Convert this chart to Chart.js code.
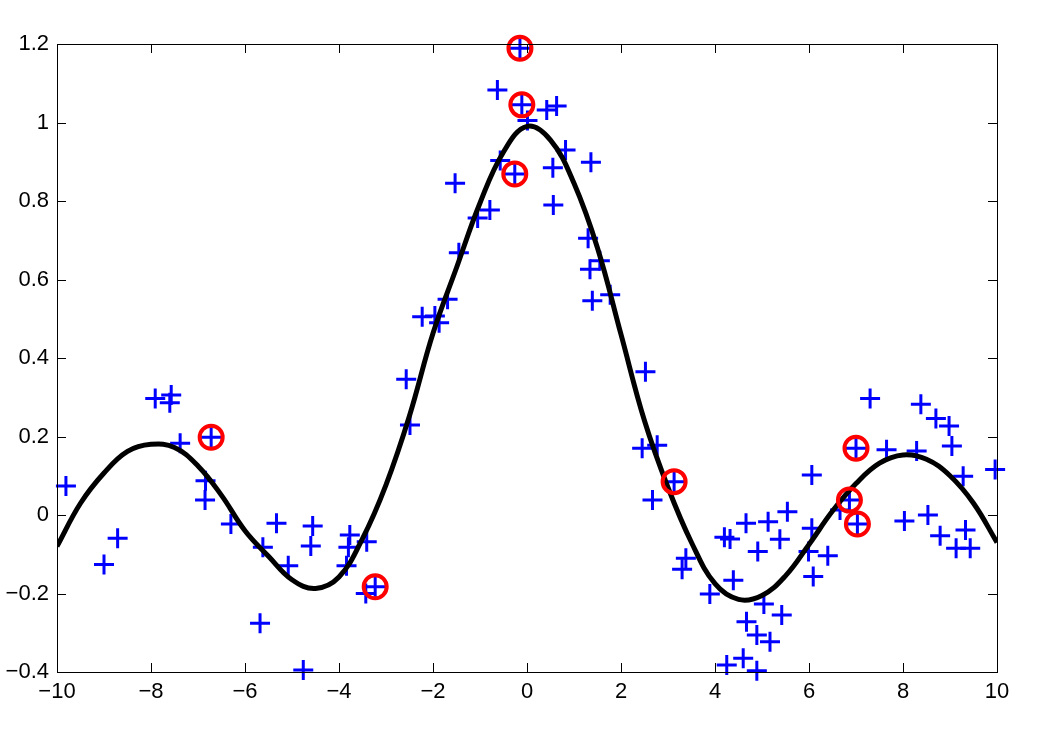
<!DOCTYPE html>
<html>
<head>
<meta charset="utf-8">
<script src="https://cdn.jsdelivr.net/npm/chart.js@4/dist/chart.umd.min.js"></script>
<style>
  html, body { margin: 0; padding: 0; background: #fff; }
  #wrap { width: 1046px; height: 730px; }
</style>
</head>
<body>
<div id="wrap"><canvas id="svrChart"></canvas></div>
<script>
// training samples (blue +)
const sampleX = [-9.81, -9.0, -8.71, -7.91, -7.57, -7.6, -7.38, -6.72, -6.84, -6.85, -6.3, -5.33, -5.62, -5.08, -4.56, -4.6, -5.68, -4.76,
  -2.57, -2.49, -3.77, -3.8, -3.41, -3.84, -3.23, -3.43,
  -0.15, -0.63, -0.11, 0.42, 0.63, 0.01, 0.82, 1.36, -0.57, -0.26, 0.55, -1.53, 0.56, -0.79, -1.05, -1.45, 1.3, 1.55, 1.34, 1.77, 1.39, -1.69, -2.23, -1.96, -1.87,
  2.52, 2.45, 2.77, 3.13, 2.67, 3.38, 3.3, 3.89, 4.39, 4.2, 4.32, 4.66, 5.13, 4.91, 5.38, 5.54, 6.06, 6.06, 5.99, 6.09, 5.04, 5.42, 4.67, 4.89, 5.17, 4.6, 4.25, 4.89,
  7.3, 8.38, 8.7, 8.98, 9.04, 7.0, 7.65, 8.29, 9.28, 9.96, 6.86, 6.66, 7.03, 8.03, 8.53, 8.79, 9.33, 9.13, 9.43, 6.4];
const sampleY = [0.074, -0.126, -0.059, 0.297, 0.306, 0.286, 0.183, 0.198, 0.087, 0.038, -0.023, -0.021, -0.082, -0.129, -0.028, -0.079, -0.276, -0.395,
  0.346, 0.229, -0.051, -0.082, -0.068, -0.129, -0.183, -0.2,
  1.189, 1.083, 1.045, 1.032, 1.042, 1.005, 0.93, 0.899, 0.903, 0.869, 0.885, 0.845, 0.79, 0.777, 0.757, 0.668, 0.705, 0.648, 0.626, 0.561, 0.546, 0.55, 0.505, 0.507, 0.49,
  0.365, 0.17, 0.178, 0.085, 0.038, -0.11, -0.138, -0.201, -0.166, -0.057, -0.061, -0.021, -0.017, -0.093, -0.062, 0.008, 0.102, -0.034, -0.093, -0.157, -0.227, -0.255, -0.272, -0.306, -0.323, -0.365, -0.382, -0.397,
  0.297, 0.282, 0.246, 0.227, 0.176, 0.17, 0.166, 0.163, 0.099, 0.116, 0.038, 0.013, -0.023, -0.015, 0.0, -0.053, -0.038, -0.085, -0.085, -0.104];

// circled samples (red o)
const circledX = [-6.72, -3.23, -0.15, -0.11, -0.26, 3.13, 6.86, 7.0, 7.03];
const circledY = [0.198, -0.183, 1.189, 1.045, 0.869, 0.085, 0.038, 0.17, -0.023];

// fitted curve (black line)
const fitX = [-10, -9.5, -9, -8.5, -8, -7.5, -7, -6.5, -6, -5.5, -5, -4.5, -4, -3.5, -3, -2.5, -2, -1.5, -1, -0.5, 0,
  0.5, 1, 1.5, 2, 2.5, 3, 3.5, 4, 4.5, 5, 5.5, 6, 6.5, 7, 7.5, 8, 8.5, 9, 9.5, 10];
const fitY = [-0.08, 0.03, 0.107, 0.162, 0.18, 0.172, 0.125, 0.05, -0.04, -0.105, -0.165, -0.187, -0.158, -0.06, 0.077, 0.253, 0.463, 0.63, 0.795, 0.925, 0.99,
  0.955, 0.845, 0.68, 0.46, 0.24, 0.07, -0.07, -0.175, -0.215, -0.205, -0.155, -0.075, 0.01, 0.08, 0.132, 0.153, 0.142, 0.1, 0.03, -0.07];

const xTicks = [-10, -8, -6, -4, -2, 0, 2, 4, 6, 8, 10];
const yTicks = [-0.4, -0.2, 0, 0.2, 0.4, 0.6, 0.8, 1, 1.2];

const toPts = (xs, ys) => xs.map((x, i) => ({ x: x, y: ys[i] }));
const fmt = (v) => String(Math.round(v * 10) / 10).replace('-', '\u2212');
const tickFont = { family: 'Arial, "Liberation Sans", sans-serif', size: 22 };

// MATLAB style box with inward ticks on all four sides
const boxPlugin = {
  id: 'box',
  afterDraw(chart) {
    const { ctx, chartArea: a, scales } = chart;
    const len = 9;
    ctx.save();
    ctx.strokeStyle = '#000';
    ctx.lineWidth = 1;
    ctx.beginPath();
    xTicks.forEach((t) => {
      const px = Math.round(scales.x.getPixelForValue(t)) + 0.5;
      ctx.moveTo(px, a.bottom); ctx.lineTo(px, a.bottom - len);
      ctx.moveTo(px, a.top); ctx.lineTo(px, a.top + len);
    });
    yTicks.forEach((t) => {
      const py = Math.round(scales.y.getPixelForValue(t)) + 0.5;
      ctx.moveTo(a.left, py); ctx.lineTo(a.left + len, py);
      ctx.moveTo(a.right, py); ctx.lineTo(a.right - len, py);
    });
    ctx.stroke();
    ctx.strokeRect(Math.round(a.left) + 0.5, Math.round(a.top) + 0.5,
      Math.round(a.right - a.left), Math.round(a.bottom - a.top));
    ctx.restore();
  }
};

new Chart(document.getElementById('svrChart'), {
  type: 'scatter',
  data: {
    datasets: [
      {
        label: 'circled',
        data: toPts(circledX, circledY),
        pointStyle: 'circle',
        pointRadius: 11.5,
        pointBorderWidth: 4,
        pointBorderColor: '#FF0000',
        pointBackgroundColor: 'rgba(0,0,0,0)',
        clip: false,
        order: 0
      },
      {
        label: 'fit',
        data: toPts(fitX, fitY),
        showLine: true,
        borderColor: '#000',
        borderWidth: 5,
        pointRadius: 0,
        tension: 0.4,
        order: 1
      },
      {
        label: 'samples',
        data: toPts(sampleX, sampleY),
        pointStyle: 'cross',
        pointRadius: 10,
        pointBorderWidth: 3,
        pointBorderColor: '#0000FF',
        clip: false,
        order: 2
      }
    ]
  },
  options: {
    responsive: true,
    maintainAspectRatio: false,
    animation: false,
    layout: { padding: { top: 44, right: 49, left: 0, bottom: 0 } },
    plugins: {
      legend: { display: false },
      tooltip: { enabled: false }
    },
    scales: {
      x: {
        type: 'linear',
        min: -10,
        max: 10,
        afterBuildTicks: (scale) => { scale.ticks = xTicks.map((v) => ({ value: v })); },
        afterFit: (scale) => { scale.height = 58; },
        ticks: { padding: 7, maxRotation: 0, autoSkip: false, callback: fmt, font: tickFont, color: '#000' },
        grid: { display: false, drawTicks: false },
        border: { display: false }
      },
      y: {
        type: 'linear',
        min: -0.4,
        max: 1.2,
        afterBuildTicks: (scale) => { scale.ticks = yTicks.map((v) => ({ value: v })); },
        afterFit: (scale) => { scale.width = 57; },
        ticks: { padding: 8, autoSkip: false, callback: fmt, font: tickFont, color: '#000' },
        grid: { display: false, drawTicks: false },
        border: { display: false }
      }
    }
  },
  plugins: [boxPlugin]
});
</script>
</body>
</html>
